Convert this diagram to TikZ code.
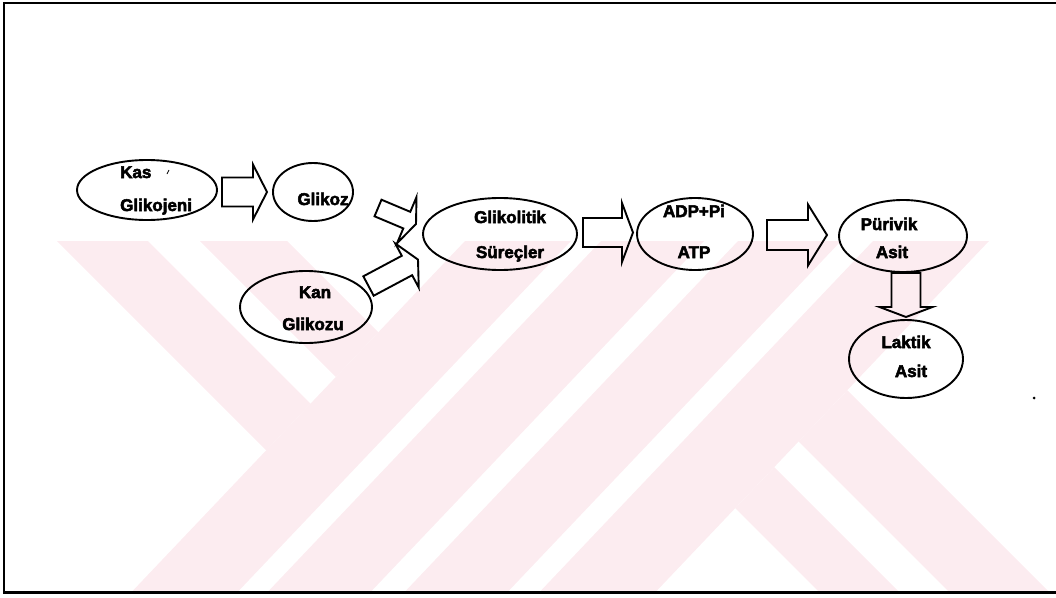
\documentclass[tikz,border=0pt]{standalone}
\usepackage{fontspec}
\setmainfont{Liberation Sans}
\newfontfamily\heavyfont[FakeBold=3]{Liberation Sans Bold}
\usetikzlibrary{shapes.geometric,calc}
\definecolor{wm}{RGB}{252,236,240}
\tikzset{
  ell/.style={draw, ellipse, line width=1.9pt, inner sep=0pt},
  lbl/.style={font=\fontsize{17}{20}\heavyfont, inner sep=0pt, anchor=base},
  barrow/.style={draw, line width=1.9pt, line join=miter},
  frameline/.style={line width=2pt},
}
\newcommand\blockarr[5]{%
  \coordinate (bq) at ($(#2)!#5!(#1)$);
  \draw[barrow] ($(#1)!#3!90:(#2)$) -- ($(bq)!#3!-90:(#1)$) -- ($(bq)!#4!-90:(#1)$) -- (#2)
    -- ($(bq)!#4!90:(#1)$) -- ($(bq)!#3!90:(#1)$) -- ($(#1)!#3!-90:(#2)$) -- cycle;}
\begin{document}
\begin{tikzpicture}[x=1pt,y=-1pt]
\useasboundingbox (0,0) rectangle (1056,597);
% watermark
\begin{scope}
  \clip (4,241) rectangle (1053,592);
  \fill[wm] (465,241) -- (571,241) -- (230,600) -- (124,600) -- cycle;
  \fill[wm] (601,241) -- (704,241) -- (363,600) -- (260,600) -- cycle;
  \fill[wm] (738,241) -- (841,241) -- (500,600) -- (397,600) -- cycle;
  \fill[wm] (873,241) -- (989,241) -- (648,600) -- (532,600) -- cycle;
  \fill[wm] (57,241) -- (148,241) -- (310.6,403.6) -- (266.3,450.3) -- cycle;
  \fill[wm] (200,241) -- (287,241) -- (378.3,332.3) -- (335.9,376.9) -- cycle;
  \fill[wm] (735.2,508.2) -- (774.2,467.2) -- (907,600) -- (827,600) -- cycle;
  \fill[wm] (798.5,441.5) -- (847.3,390.3) -- (1057,600) -- (957,600) -- cycle;
\end{scope}
% frame
\draw[frameline] (4,592) -- (4,3) -- (1056,3);
\draw[line width=3pt] (3,592) -- (1056,592);
% ellipses
\node[ell, minimum width=140pt, minimum height=60pt] (kas) at (147,190) {};
\node[ell, minimum width=80pt, minimum height=58pt] (glikoz) at (313,192) {};
\node[ell, minimum width=132pt, minimum height=72pt] (kan) at (306,307) {};
\node[ell, minimum width=154pt, minimum height=72pt] (glikolitik) at (500,234) {};
\node[ell, minimum width=116pt, minimum height=72pt] (adp) at (695,234) {};
\node[ell, minimum width=128pt, minimum height=72pt] (piruvik) at (903,236) {};
\node[ell, minimum width=114pt, minimum height=78pt] (laktik) at (906,359) {};
% texts
\node[lbl, anchor=base west] (t1) at (120,178) {Kas};
\node[lbl, anchor=base west] (t2) at (120,211) {Glikojeni};
\node[lbl] (t3) at (323,205) {Glikoz};
\node[lbl] (t4) at (315,298) {Kan};
\node[lbl] (t5) at (313,330) {Glikozu};
\node[lbl] (t6) at (510,223) {Glikolitik};
\node[lbl] (t7) at (510,258) {Süreçler};
\node[lbl] (t8) at (694,217) {ADP+Pi};
\node[lbl] (t9) at (694,258) {ATP};
\node[lbl] (t10) at (889,230) {Pürivik};
\node[lbl] (t11) at (892,258) {Asit};
\node[lbl] (t12) at (906,348) {Laktik};
\node[lbl] (t13) at (911,377) {Asit};
% arrows
\coordinate (a1s) at (222,192); \coordinate (a1e) at (267,192);
\blockarr{a1s}{a1e}{14.5pt}{27.5pt}{14pt}
\coordinate (a2s) at (378,208); \coordinate (a2e) at (416,224);
\blockarr{a2s}{a2e}{9pt}{25pt}{10pt}
\coordinate (a3s) at (368.5,286); \coordinate (a3e) at (418,259.6);
\blockarr{a3s}{a3e}{11pt}{25pt}{12.5pt}
\coordinate (a4s) at (583,232.5); \coordinate (a4e) at (633,232.5);
\blockarr{a4s}{a4e}{14.5pt}{29.5pt}{11pt}
\coordinate (a5s) at (767,235); \coordinate (a5e) at (827,235);
\blockarr{a5s}{a5e}{15pt}{30.5pt}{19pt}
\coordinate (a6s) at (906,273); \coordinate (a6e) at (906,317);
\blockarr{a6s}{a6e}{14.5pt}{26.5pt}{10pt}
% specks
\draw[line width=0.8pt] (167,174) -- (169,170);
\fill (1034,398) circle (1.5pt);
\end{tikzpicture}
\end{document}
